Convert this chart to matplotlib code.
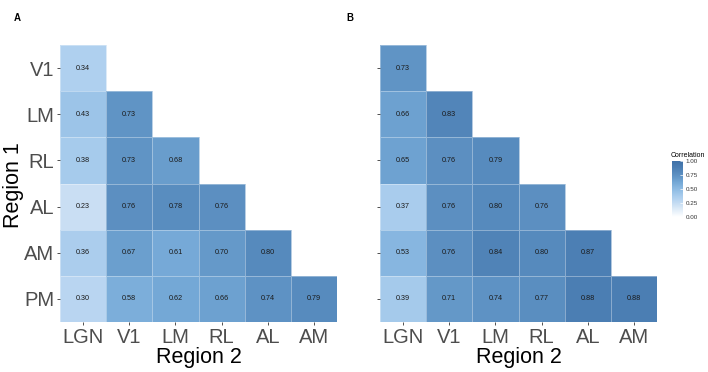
import numpy as np
import matplotlib.pyplot as plt
from matplotlib.colors import LinearSegmentedColormap

plt.rcParams['font.family'] = ['Liberation Sans', 'DejaVu Sans']

# ----------------- data -----------------
rows = ['V1', 'LM', 'RL', 'AL', 'AM', 'PM']      # Region 1
cols = ['LGN', 'V1', 'LM', 'RL', 'AL', 'AM']     # Region 2

corr_a = [
    [0.34],
    [0.43, 0.73],
    [0.38, 0.73, 0.68],
    [0.23, 0.76, 0.78, 0.76],
    [0.36, 0.67, 0.61, 0.70, 0.80],
    [0.30, 0.58, 0.62, 0.66, 0.74, 0.79],
]
corr_b = [
    [0.73],
    [0.66, 0.83],
    [0.65, 0.76, 0.79],
    [0.37, 0.76, 0.80, 0.76],
    [0.53, 0.76, 0.84, 0.80, 0.87],
    [0.39, 0.71, 0.74, 0.77, 0.88, 0.88],
]

# white -> steelblue-ish gradient (ggplot style)
cmap = LinearSegmentedColormap.from_list('corr', [
    (0.0, '#ffffff'), (0.23, '#c8def3'), (0.34, '#afd0ef'),
    (0.5, '#8dbbe3'), (0.62, '#74a8d6'), (0.73, '#6094c5'),
    (0.88, '#4b7eb3'), (1.0, '#3f70a7')])


def to_matrix(tri):
    m = np.full((len(rows), len(cols)), np.nan)
    for i, r in enumerate(tri):
        m[i, :len(r)] = r
    return np.ma.masked_invalid(m)


def draw_panel(ax, tri, show_ylabels):
    m = to_matrix(tri)
    mesh = ax.pcolormesh(np.arange(len(cols) + 1), np.arange(len(rows) + 1), m,
                         cmap=cmap, vmin=0, vmax=1,
                         edgecolors=(1, 1, 1, 0.35), linewidth=0.6)
    for i, r in enumerate(tri):
        for j, v in enumerate(r):
            ax.text(j + 0.5, i + 0.5, '%.2f' % v, ha='center', va='center',
                    fontsize=5.2, color='#1a1a1a')
    ax.set_xlim(0, len(cols))
    ax.set_ylim(len(rows), 0)
    ax.set_xticks(np.arange(len(cols)) + 0.5)
    ax.set_xticklabels(cols, fontsize=14.5, color='#4d4d4d')
    ax.set_yticks(np.arange(len(rows)) + 0.5)
    if show_ylabels:
        ax.set_yticklabels(rows, fontsize=14.5, color='#4d4d4d')
    else:
        ax.set_yticklabels([''] * len(rows))
    ax.set_xlabel('Region 2', fontsize=15.5, labelpad=0)
    ax.tick_params(length=2.5, width=0.6, color='#333333', pad=1.5)
    for s in ax.spines.values():
        s.set_visible(False)
    return mesh


fig = plt.figure(figsize=(7.08, 3.72), dpi=100)
W, H = 708, 372
ax_a = fig.add_axes([60 / W, 1 - 322 / H, 277 / W, 277 / H])
ax_b = fig.add_axes([380 / W, 1 - 322 / H, 277 / W, 277 / H])

mesh = draw_panel(ax_a, corr_a, True)
draw_panel(ax_b, corr_b, False)

fig.text(13 / W, 1 - 185 / H, 'Region 1', fontsize=15.5, rotation=90,
         ha='center', va='center')
fig.text(14 / W, 1 - 18 / H, 'A', fontsize=7, fontweight='bold', va='center')
fig.text(346 / W, 1 - 18 / H, 'B', fontsize=7, fontweight='bold', va='center')

# colour bar
cax = fig.add_axes([672 / W, 1 - 217 / H, 11 / W, 56 / H])
cb = fig.colorbar(mesh, cax=cax, ticks=[0, 0.25, 0.5, 0.75, 1.0])
cb.outline.set_visible(False)
cb.ax.set_yticklabels(['0.00', '0.25', '0.50', '0.75', '1.00'])
cb.ax.tick_params(labelsize=4.5, length=2, width=0.5, color='white',
                  direction='in', pad=2, labelcolor='#333333')
fig.text(671 / W, 1 - 155 / H, 'Correlation', fontsize=5, va='center')

plt.savefig('out.png', dpi=100)
